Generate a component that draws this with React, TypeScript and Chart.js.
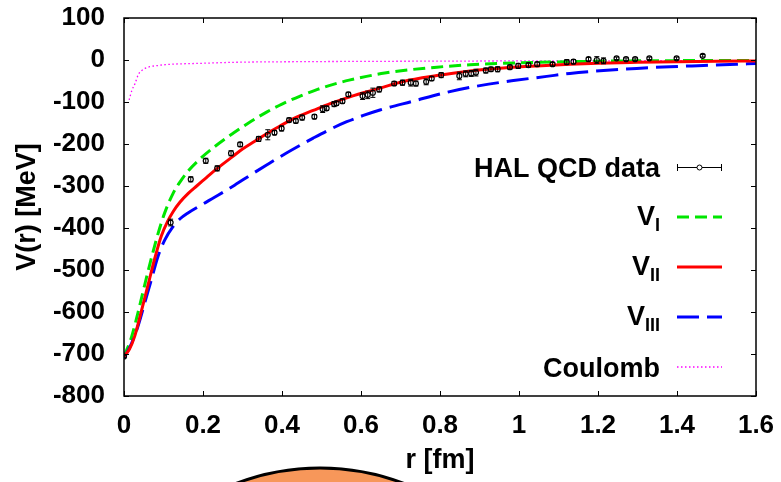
import React, { useEffect, useRef } from 'react';
import { Chart, registerables } from 'chart.js';
Chart.register(...registerables);

// ---------- data ----------
const xTickValues = [0, 0.2, 0.4, 0.6, 0.8, 1.0, 1.2, 1.4, 1.6];
const yTickValues = [100, 0, -100, -200, -300, -400, -500, -600, -700, -800];

const halR = [0.000, 0.118, 0.169, 0.207, 0.236, 0.271, 0.294, 0.341, 0.364, 0.381, 0.399, 0.418, 0.435, 0.451, 0.482, 0.503, 0.513, 0.532, 0.538, 0.553, 0.568, 0.604, 0.617, 0.630, 0.646, 0.684, 0.705, 0.726, 0.739, 0.765, 0.779, 0.803, 0.849, 0.865, 0.879, 0.891, 0.916, 0.929, 0.946, 0.977, 0.998, 1.024, 1.046, 1.085, 1.121, 1.138, 1.176, 1.197, 1.214, 1.247, 1.271, 1.294, 1.330, 1.399, 1.465];
const halV = [-706, -387, -284, -240, -258, -222, -201, -188, -178, -173, -163, -143, -145, -137, -135, -117, -115, -105, -103, -98, -82, -86, -83, -78, -70, -56, -54, -54, -56, -52, -44, -36, -38, -33, -32, -30, -25, -22, -22, -17, -14, -12, -10, -10, -5, -4, 2, 0, -2, 4, 2, 2, 4, 4, 10];
const halErr = [3, 8, 6, 6, 6, 6, 5, 6, 12, 5, 6, 5, 5, 6, 5, 8, 5, 6, 5, 5, 5, 8, 9, 11, 6, 5, 6, 8, 6, 7, 5, 6, 9, 7, 7, 8, 6, 5, 6, 5, 6, 5, 5, 4, 6, 5, 4, 8, 7, 3, 3, 3, 3, 3, 3];

const vIR = [0, 0.019, 0.035, 0.052, 0.069, 0.086, 0.103, 0.124, 0.142, 0.160, 0.192, 0.230, 0.277, 0.320, 0.361, 0.400, 0.446, 0.490, 0.530, 0.570, 0.614, 0.660, 0.707, 0.792, 0.876, 0.960, 1.045, 1.129, 1.2, 1.3, 1.4, 1.5, 1.6];
const vIV = [-706, -660, -603, -537, -473, -414, -364, -318, -290, -267, -236, -206, -174, -147, -124, -105, -86, -70, -58, -48, -39, -31, -25, -17, -11.5, -8, -5.5, -4, -3, -2, -1.5, -1.2, -1];

const vIIR = [0, 0.014, 0.027, 0.044, 0.061, 0.078, 0.094, 0.110, 0.125, 0.142, 0.162, 0.184, 0.205, 0.226, 0.250, 0.275, 0.300, 0.330, 0.360, 0.395, 0.437, 0.479, 0.522, 0.564, 0.606, 0.648, 0.707, 0.792, 0.876, 0.960, 1.045, 1.129, 1.2, 1.3, 1.4, 1.5, 1.6];
const vIIV = [-706, -688, -658, -598, -535, -472, -420, -385, -360, -338, -318, -300, -283, -266, -248, -230, -212, -194, -176, -157, -136, -120, -104, -90, -78, -67, -51, -37, -26, -19, -14, -10, -7.5, -5.5, -4, -3, -2.5];

const vIIIR = [0, 0.019, 0.035, 0.052, 0.069, 0.086, 0.103, 0.124, 0.142, 0.162, 0.196, 0.238, 0.280, 0.320, 0.361, 0.403, 0.446, 0.479, 0.522, 0.564, 0.606, 0.648, 0.732, 0.817, 0.901, 0.986, 1.070, 1.129, 1.214, 1.298, 1.382, 1.467, 1.551, 1.6];
const vIIIV = [-710, -675, -635, -580, -524, -468, -429, -397, -378, -364, -345, -322, -298, -274, -250, -226, -203, -186, -165, -147, -132, -119, -98, -77, -61, -49, -39, -32, -25, -20, -16, -13, -10, -8.5];

const coulR = [0.013, 0.020, 0.028, 0.036, 0.045, 0.053, 0.065, 0.083, 0.105, 0.133, 0.192, 0.277, 0.446, 0.7, 1.0, 1.3, 1.6];
const coulV = [-95, -72, -56, -35, -25, -20, -16, -13.5, -11, -9.5, -8, -5.5, -4, -3, -2.2, -1.8, -1.5];

const legendMain = ['HAL QCD data', 'V', 'V', 'V', 'Coulomb'];
const legendSub = ['', 'I', 'II', 'III', ''];

// ---------- styles ----------
const FONT = '"Liberation Sans", Arial, Helvetica, sans-serif';
const GREEN = '#00e600';
const RED = '#ff0000';
const BLUE = '#0000ff';
const MAGENTA = '#ff00ff';
const dashI = [12, 6];
const dashIII = [22, 8];
const dashC = [1.5, 2.5];

const toXY = (xs: number[], ys: number[]) => xs.map((x, i) => ({ x, y: ys[i] }));

const decoPlugin = {
  id: 'deco',
  beforeDraw(chart: any) {
    const ctx = chart.ctx;
    ctx.save();
    ctx.fillStyle = '#ffffff';
    ctx.fillRect(0, 0, chart.width, chart.height);
    ctx.beginPath();
    ctx.arc(320, 704, 236, 0, Math.PI * 2);
    ctx.fillStyle = '#f7975a';
    ctx.fill();
    ctx.lineWidth = 3;
    ctx.strokeStyle = '#000';
    ctx.stroke();
    ctx.restore();
  },
  afterDatasetsDraw(chart: any) {
    const { ctx, chartArea: a, scales } = chart;
    const xs = scales.x, ys = scales.y;
    ctx.save();
    ctx.beginPath();
    ctx.rect(a.left, a.top, a.right - a.left, a.bottom - a.top);
    ctx.clip();
    ctx.strokeStyle = '#000';
    ctx.lineWidth = 1;
    halR.forEach((r, i) => {
      const px = xs.getPixelForValue(r);
      const t = ys.getPixelForValue(halV[i] + halErr[i]);
      const b = ys.getPixelForValue(halV[i] - halErr[i]);
      ctx.beginPath();
      ctx.moveTo(px, t); ctx.lineTo(px, b);
      ctx.moveTo(px - 2.5, t); ctx.lineTo(px + 2.5, t);
      ctx.moveTo(px - 2.5, b); ctx.lineTo(px + 2.5, b);
      ctx.stroke();
    });
    ctx.restore();
  },
  afterDraw(chart: any) {
    const { ctx, chartArea: a, scales } = chart;
    const xs = scales.x, ys = scales.y;
    ctx.save();
    ctx.strokeStyle = '#000';
    ctx.lineWidth = 1;
    const tl = 5;
    ctx.beginPath();
    xTickValues.forEach((v) => {
      const px = Math.round(xs.getPixelForValue(v)) + 0.5;
      ctx.moveTo(px, a.bottom); ctx.lineTo(px, a.bottom - tl);
      ctx.moveTo(px, a.top); ctx.lineTo(px, a.top + tl);
    });
    yTickValues.forEach((v) => {
      const py = Math.round(ys.getPixelForValue(v)) + 0.5;
      ctx.moveTo(a.left, py); ctx.lineTo(a.left + tl, py);
      ctx.moveTo(a.right, py); ctx.lineTo(a.right - tl, py);
    });
    ctx.stroke();
    ctx.lineWidth = 1.5;
    ctx.strokeRect(a.left, a.top, a.right - a.left, a.bottom - a.top);

    // legend
    const textRight = 660;
    const x0 = 677, x1 = 722;
    const rows = [167, 217, 267, 317, 367];
    ctx.fillStyle = '#000';
    ctx.textAlign = 'left';
    ctx.textBaseline = 'alphabetic';
    rows.forEach((y, i) => {
      const main = legendMain[i];
      const sub = legendSub[i];
      ctx.font = `bold 27px ${FONT}`;
      const wMain = ctx.measureText(main).width;
      let wSub = 0;
      if (sub) {
        ctx.font = `bold 18px ${FONT}`;
        wSub = ctx.measureText(sub).width;
      }
      const start = textRight - wMain - wSub;
      ctx.font = `bold 27px ${FONT}`;
      ctx.fillText(main, start, sub ? y + 8 : y + 10);
      if (sub) {
        ctx.font = `bold 18px ${FONT}`;
        ctx.fillText(sub, start + wMain, y + 14);
      }
      ctx.beginPath();
      ctx.setLineDash([]);
      if (i === 0) {
        ctx.strokeStyle = '#000';
        ctx.lineWidth = 1;
        ctx.moveTo(x0, y + 0.5); ctx.lineTo(x1, y + 0.5);
        ctx.moveTo(x0 + 0.5, y - 3); ctx.lineTo(x0 + 0.5, y + 4);
        ctx.moveTo(x1 - 0.5, y - 3); ctx.lineTo(x1 - 0.5, y + 4);
        ctx.stroke();
        ctx.beginPath();
        ctx.arc((x0 + x1) / 2, y + 0.5, 2.5, 0, Math.PI * 2);
        ctx.fillStyle = '#fff';
        ctx.fill();
        ctx.stroke();
        ctx.fillStyle = '#000';
      } else {
        const st = [null, [GREEN, dashI, 3], [RED, [], 3], [BLUE, dashIII, 3], [MAGENTA, dashC, 1.3]][i] as any;
        ctx.strokeStyle = st[0];
        ctx.setLineDash(st[1]);
        ctx.lineWidth = st[2];
        ctx.moveTo(x0, y); ctx.lineTo(x1, y);
        ctx.stroke();
        ctx.setLineDash([]);
      }
    });
    ctx.restore();
  },
};

export default function App() {
  const ref = useRef<HTMLCanvasElement>(null);
  useEffect(() => {
    document.body.style.margin = '0';
    const tickFont = { family: FONT, size: 26, weight: 'bold' as const };
    const titleFont = { family: FONT, size: 27, weight: 'bold' as const };
    const chart = new Chart(ref.current as HTMLCanvasElement, {
      type: 'scatter',
      data: {
        datasets: [
          { label: 'HAL QCD data', data: toXY(halR, halV), showLine: false, pointRadius: 2.5, pointBorderWidth: 1.2, borderColor: '#000', backgroundColor: 'rgba(0,0,0,0)', order: 0 },
          { label: 'V_I', data: toXY(vIR, vIV), showLine: true, pointRadius: 0, borderColor: GREEN, borderWidth: 3, borderDash: dashI, cubicInterpolationMode: 'monotone', order: 3 },
          { label: 'V_II', data: toXY(vIIR, vIIV), showLine: true, pointRadius: 0, borderColor: RED, borderWidth: 3, cubicInterpolationMode: 'monotone', order: 1 },
          { label: 'V_III', data: toXY(vIIIR, vIIIV), showLine: true, pointRadius: 0, borderColor: BLUE, borderWidth: 3, borderDash: dashIII, cubicInterpolationMode: 'monotone', order: 2 },
          { label: 'Coulomb', data: toXY(coulR, coulV), showLine: true, pointRadius: 0, borderColor: MAGENTA, borderWidth: 1.3, borderDash: dashC, cubicInterpolationMode: 'monotone', order: 4 },
        ],
      } as any,
      options: {
        animation: false,
        responsive: false,
        devicePixelRatio: 1,
        layout: { padding: { top: 18, right: 25, left: 0, bottom: 0 } },
        plugins: { legend: { display: false }, tooltip: { enabled: false } },
        scales: {
          x: {
            type: 'linear', min: 0, max: 1.6,
            grid: { display: false, drawTicks: false },
            border: { display: false },
            ticks: {
              stepSize: 0.2, autoSkip: false, maxRotation: 0, padding: 14, color: '#000', font: tickFont,
              callback: (v: any) => String(Math.round(Number(v) * 10) / 10),
            },
            title: { display: true, text: 'r [fm]', color: '#000', font: titleFont, padding: { top: 0, bottom: 5 } },
            afterFit: (s: any) => { s.height = 86; s.paddingLeft = 0; s.paddingRight = 0; s.paddingTop = 0; s.paddingBottom = 0; },
          },
          y: {
            type: 'linear', min: -800, max: 100,
            grid: { display: false, drawTicks: false },
            border: { display: false },
            ticks: { stepSize: 100, autoSkip: false, padding: 19, color: '#000', font: tickFont, callback: (v: any) => String(v) },
            title: { display: true, text: 'V(r) [MeV]', color: '#000', font: titleFont, padding: { top: 11, bottom: 0 } },
            afterFit: (s: any) => { s.width = 124; s.paddingLeft = 0; s.paddingRight = 0; s.paddingTop = 0; s.paddingBottom = 0; },
          },
        },
      } as any,
      plugins: [decoPlugin],
    });
    return () => chart.destroy();
  }, []);
  return (
    <div style={{ width: 781, height: 482 }}>
      <canvas ref={ref} width={781} height={482} style={{ display: 'block', width: 781, height: 482 }} />
    </div>
  );
}
